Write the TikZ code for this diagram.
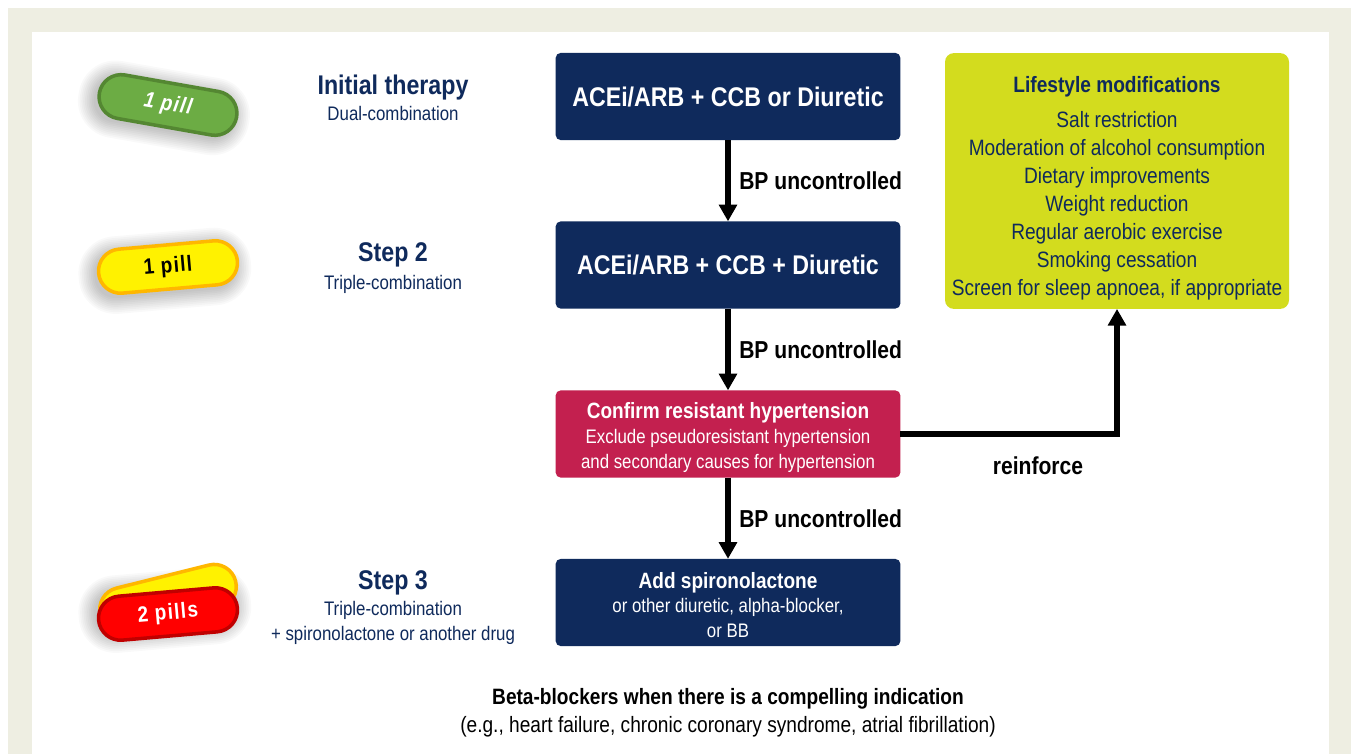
\documentclass[tikz,border=0pt]{standalone}
\usepackage{fontspec}
\setmainfont[FakeStretch=0.86]{Liberation Sans}
\newfontfamily\pillfamily[FakeStretch=0.86,LetterSpace=6]{Liberation Sans}
\usepackage{xcolor}
\usetikzlibrary{shapes,calc,positioning,arrows.meta}
\definecolor{navy}{HTML}{0F2A5C}
\definecolor{crimson}{HTML}{C3204F}
\definecolor{lime}{HTML}{D3DC1E}
\definecolor{page}{HTML}{EEEEE2}
\definecolor{pillgreen}{HTML}{6CAC44}
\definecolor{pillgreenline}{HTML}{548732}
\definecolor{pillamber}{HTML}{FFB700}
\definecolor{pillred}{HTML}{C00000}
\newcommand{\bigfont}{\fontsize{15.3}{18}\selectfont\bfseries}
\newcommand{\midfont}{\fontsize{12.55}{14}\selectfont\bfseries}
\newcommand{\subfont}{\fontsize{11.1}{14}\selectfont\mdseries}
\tikzset{
  box/.style={fill=navy,text=white,rounded corners=3pt,minimum width=195.5pt,minimum height=49.5pt,align=center,inner sep=0pt,outer sep=0pt},
  flow/.style={line width=3.1pt,-{Triangle[length=9.5pt,width=10pt]}},
  lab/.style={font=\fontsize{13.9}{16}\selectfont\bfseries},
  head/.style={text=navy,align=center,inner sep=0pt,font=\subfont},
  pill/.style={rounded rectangle,minimum width=79pt,minimum height=25pt,line width=2pt,inner sep=0pt,font=\pillfamily\fontsize{12.5}{14}\selectfont\bfseries},
}
\newcommand{\pillshadow}[2]{% centre, angle
  \foreach \w in {9,8,...,0}{
    \fill[black,opacity=0.022,rounded corners={12pt+\w pt},rotate around={#2:(#1)}]
      ($(#1)+(-42pt-\w pt,-15pt-\w pt)$) rectangle ($(#1)+(38pt+\w pt,11pt+\w pt)$);
  }
}
\begin{document}
\begin{tikzpicture}[x=0.5669pt,y=-0.5669pt]
  \useasboundingbox (0,0) rectangle (1351,754);
  \fill[page] (8,8) rectangle (1351,754);
  \fill[white] (32,32) rectangle (1329,754);

  % the pills on the left
  \pillshadow{168,105}{-10}
  \pillshadow{168,267}{5}
  \pillshadow{168,606}{5}
  \node[pill,fill=pillgreen,draw=pillgreenline,text=white,rotate=-10] (pilla) at (168,105) {\itshape 1 pill};
  \node[pill,fill=yellow,draw=pillamber,rotate=5] (pillb) at (168,267) {1 pill};
  \node[pill,fill=yellow,draw=pillamber,rotate=14] (pillback) at (168,598) {};
  \node[pill,fill=red,draw=pillred,text=white,rotate=5] (pillc) at (168,614) {2 pills};

  % the step titles
  \node[head] (first) at (393,98) {\bigfont Initial therapy\\[1pt]\subfont Dual-combination};
  \node[head] (second) at (393,268) {\bigfont Step 2\\[2pt]\subfont Triple-combination};
  \node[head] (third) at (393,607.5) {\bigfont Step 3\\[1pt]\subfont Triple-combination\\ + spironolactone or another drug};

  % the boxes in the middle
  \node[box,font=\bigfont] (dual) at (728,96.5) {ACEi/ARB + CCB or Diuretic};
  \node[box,font=\bigfont] (triple) at (728,265) {ACEi/ARB + CCB + Diuretic};
  \node[box,fill=crimson,font=\subfont] (confirm) at (728,434) {\rule{0pt}{13pt}\midfont Confirm resistant hypertension\\\subfont Exclude pseudoresistant hypertension\\ and secondary causes for hypertension};
  \node[box,font=\subfont] (spiro) at (728,602.5) {\rule{0pt}{12pt}\midfont Add spironolactone\\\subfont or other diuretic, alpha-blocker,\\ or BB};

  % the lifestyle box
  \node[fill=lime,text=navy,rounded corners=5pt,minimum width=195pt,minimum height=145pt,align=center,inner sep=0pt,outer sep=0pt,font=\fontsize{12.6}{15.9}\selectfont] (life) at (1117,181) {\rule{0pt}{17.5pt}\bfseries Lifestyle modifications\\[3.4pt]\mdseries Salt restriction\\ Moderation of alcohol consumption\\ Dietary improvements\\ Weight reduction\\ Regular aerobic exercise\\ Smoking cessation\\ Screen for sleep apnoea, if appropriate};

  % the connections
  \draw[flow] (dual) -- (triple) node [midway,right=1.5pt,lab] {BP uncontrolled};
  \draw[flow] (triple) -- (confirm) node [midway,right=1.5pt,lab] {BP uncontrolled};
  \draw[flow] (confirm) -- (spiro) node [midway,right=1.5pt,lab] {BP uncontrolled};
  \coordinate (turn) at (life.south |- confirm.east);
  \draw[flow] (confirm.east) -- (turn) -- (life.south);
  \node[lab] (reinforce) at (1038,466) {reinforce};

  % the bottom note
  \node[align=center,inner sep=0pt,font=\fontsize{12.6}{15.9}\selectfont] (note) at (728,713) {\bfseries Beta-blockers when there is a compelling indication\\\mdseries (e.g., heart failure, chronic coronary syndrome, atrial fibrillation)};
\end{tikzpicture}
\end{document}
